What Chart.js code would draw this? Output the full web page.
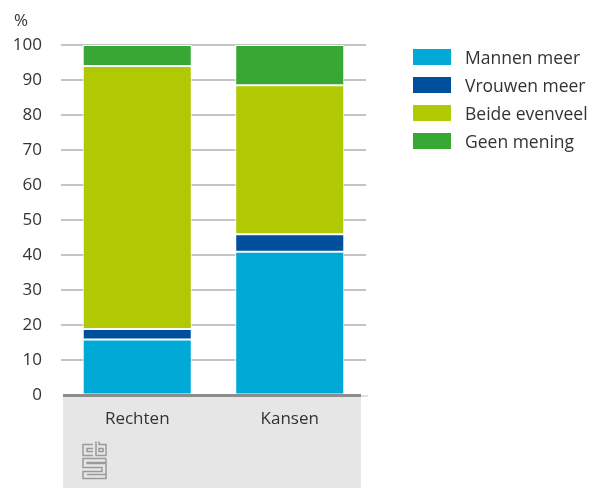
<!DOCTYPE html>
<html>
<head>
<meta charset="utf-8">
<script src="https://cdn.jsdelivr.net/npm/chart.js@4"></script>
<style>
  body { margin: 0; background: #fff; font-family: 'Open Sans', sans-serif; }
  #wrap { position: relative; width: 590px; height: 489px; }
  #legend { position: absolute; left: 413px; top: 43px; color: #333; font-size: 17.5px; }
  .item { display: flex; align-items: center; height: 28px; }
  .box { width: 38px; height: 16px; margin-right: 14px; }
</style>
</head>
<body>
<div id="wrap">
  <canvas id="chart" width="590" height="489"></canvas>
  <div id="legend"></div>
</div>
<script>
// ── Data ────────────────────────────────────────────────
const categories    = ['Rechten', 'Kansen'];
const seriesLabels  = ['Mannen meer', 'Vrouwen meer', 'Beide evenveel', 'Geen mening'];
const mannenMeer    = [16, 41];
const vrouwenMeer   = [3, 5];
const beideEvenveel = [75, 42.5];
const geenMening    = [6, 11.5];
const yMax = 100, yStep = 10;

const colors = ['#00a9d6', '#004f9c', '#b1c903', '#38a835'];
const series = [mannenMeer, vrouwenMeer, beideEvenveel, geenMening];

// ── Legend (HTML) ───────────────────────────────────────
const legend = document.getElementById('legend');
seriesLabels.forEach((lbl, i) => {
  const row = document.createElement('div');
  row.className = 'item';
  row.innerHTML = `<span class="box" style="background:${colors[i]}"></span><span>${lbl}</span>`;
  legend.appendChild(row);
});

// ── Decorations: gray band under axis, zero line, % label, logo ──
const decor = {
  id: 'decor',
  beforeDraw(chart) {
    const { ctx, chartArea: a } = chart;
    ctx.save();
    ctx.fillStyle = '#e6e6e6';
    ctx.fillRect(a.left + 2, a.bottom, a.right - a.left - 7, chart.height - a.bottom - 1);
    ctx.fillStyle = '#333';
    ctx.font = "17px 'Open Sans'";
    ctx.textBaseline = 'middle';
    ctx.fillText('%', 14, 21);
    // cbs logo (simple line drawing)
    const x = a.left + 21, y = a.bottom + 46;
    ctx.strokeStyle = '#9a9a9a';
    ctx.lineWidth = 1.5;
    ctx.beginPath();
    // c
    ctx.moveTo(x + 11, y + 3); ctx.lineTo(x + 1, y + 3); ctx.lineTo(x + 1, y + 14); ctx.lineTo(x + 11, y + 14);
    ctx.moveTo(x + 11, y + 7); ctx.lineTo(x + 5, y + 7); ctx.lineTo(x + 5, y + 10); ctx.lineTo(x + 11, y + 10);
    // b
    ctx.moveTo(x + 14, y); ctx.lineTo(x + 14, y + 14); ctx.lineTo(x + 24, y + 14); ctx.lineTo(x + 24, y + 3); ctx.lineTo(x + 17, y + 3); ctx.lineTo(x + 17, y);
    ctx.rect(x + 17, y + 7, 4, 3);
    // S
    ctx.moveTo(x + 24, y + 17); ctx.lineTo(x + 1, y + 17); ctx.lineTo(x + 1, y + 26); ctx.lineTo(x + 20, y + 26); ctx.lineTo(x + 20, y + 30); ctx.lineTo(x + 1, y + 30); ctx.lineTo(x + 1, y + 37); ctx.lineTo(x + 24, y + 37);
    ctx.lineTo(x + 24, y + 22); ctx.lineTo(x + 5, y + 22); ctx.lineTo(x + 5, y + 21); ctx.lineTo(x + 24, y + 21); ctx.lineTo(x + 24, y + 17);
    ctx.moveTo(x + 5, y + 33); ctx.lineTo(x + 24, y + 33);
    ctx.stroke();
    ctx.restore();
  },
  afterDatasetsDraw(chart) {
    const { ctx, chartArea: a } = chart;
    const y0 = chart.scales.y.getPixelForValue(0);
    ctx.save();
    ctx.strokeStyle = '#8c8c8c';
    ctx.lineWidth = 3;
    ctx.beginPath();
    ctx.moveTo(a.left + 2, y0);
    ctx.lineTo(a.right - 5, y0);
    ctx.stroke();
    ctx.strokeStyle = '#c4c4c4';
    ctx.lineWidth = 1;
    ctx.beginPath();
    ctx.moveTo(a.right - 5, y0 + 0.5);
    ctx.lineTo(a.right + 2, y0 + 0.5);
    ctx.stroke();
    ctx.restore();
  },
};

new Chart(document.getElementById('chart'), {
  type: 'bar',
  data: {
    labels: categories,
    datasets: series.map((d, i) => ({
      label: seriesLabels[i],
      data: d,
      backgroundColor: colors[i],
      borderColor: '#ffffff',
      borderWidth: 1,
      borderSkipped: false,
      barPercentage: 1,
      categoryPercentage: 0.715,
    })),
  },
  options: {
    responsive: false,
    animation: false,
    layout: { padding: { top: 45, right: 224, left: 0, bottom: 0 } },
    plugins: { legend: { display: false }, tooltip: { enabled: false } },
    scales: {
      x: {
        stacked: true,
        grid: { display: false },
        border: { display: false },
        ticks: { color: '#333', font: { family: 'Open Sans', size: 17 }, padding: 5 },
        afterFit: s => { s.height = 93.5; },
      },
      y: {
        stacked: true,
        min: 0, max: yMax,
        ticks: { stepSize: yStep, color: '#333', font: { family: 'Open Sans', size: 17 }, padding: 19 },
        grid: {
          drawTicks: false,
          color: c => c.tick.value === 0 ? 'rgba(0,0,0,0)' : '#c4c4c4',
          lineWidth: 2,
        },
        border: { display: false },
        afterFit: s => { s.width = 61; },
      },
    },
  },
  plugins: [decor],
});
</script>
</body>
</html>
